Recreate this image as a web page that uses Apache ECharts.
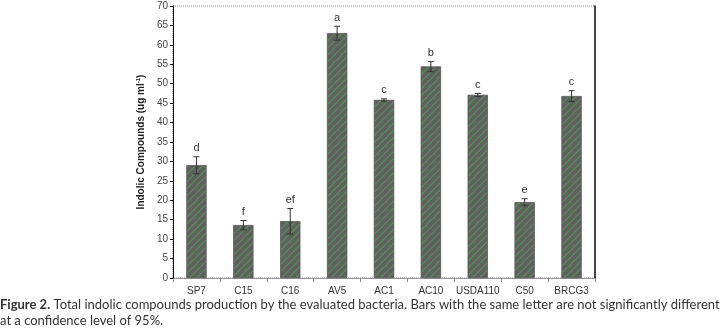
<!DOCTYPE html>
<html>
<head>
<meta charset="utf-8">
<script src="https://cdn.jsdelivr.net/npm/echarts@6/dist/echarts.min.js"></script>
<style>
  html, body { margin: 0; padding: 0; background: #fff; }
  #main { width: 722px; height: 336px; }
</style>
</head>
<body>
<div id="main"></div>
<script>
// bacteria strains
var strains = ['SP7', 'C15', 'C16', 'AV5', 'AC1', 'AC10', 'USDA110', 'C50', 'BRCG3'];
// mean indolic compounds (ug/ml)
var means = [29.0, 13.6, 14.6, 63.0, 45.8, 54.4, 47.1, 19.5, 46.8];
// standard error (+/-)
var errors = [2.2, 1.2, 3.3, 1.8, 0.3, 1.3, 0.4, 0.9, 1.4];
// significance letters
var letters = ['d', 'f', 'ef', 'a', 'c', 'b', 'c', 'e', 'c'];

var yTicks = { min: 0, max: 70, interval: 5 };

var chart = echarts.init(document.getElementById('main'));

var errData = strains.map(function (s, i) {
  return [i, means[i] - errors[i], means[i] + errors[i]];
});

var option = {
  animation: false,
  textStyle: { fontFamily: 'Liberation Sans, Arial, sans-serif' },
  // dotted frame on top, axes cover the other sides
  grid: {
    left: 173, right: 127, top: 6, bottom: 58,
    show: true, borderColor: '#8a7a90', borderWidth: 1, borderType: [1, 1]
  },
  xAxis: {
    type: 'category',
    data: strains,
    axisLine: { lineStyle: { color: '#999', width: 1 } },
    axisTick: { show: true, length: 4, lineStyle: { color: '#888' } },
    axisLabel: { color: '#333', fontSize: 10, margin: 8, interval: 0 }
  },
  yAxis: [{
    type: 'value',
    min: yTicks.min,
    max: yTicks.max,
    interval: yTicks.interval,
    name: 'Indolic Compounds (ug ml{sup|-1})',
    nameLocation: 'middle',
    nameGap: 26,
    nameTextStyle: {
      fontSize: 10, fontWeight: 'bold', color: '#222',
      rich: { sup: { fontSize: 6, fontWeight: 'bold', verticalAlign: 'top', padding: [0, 0, 5, 0] } }
    },
    axisLine: { show: true, lineStyle: { color: '#111', width: 1 } },
    axisTick: { show: true, length: 3, lineStyle: { color: '#111' } },
    axisLabel: { color: '#444', fontSize: 10, margin: 5 },
    splitLine: { show: false }
  }, {
    type: 'value',
    position: 'right',
    min: yTicks.min,
    max: yTicks.max,
    interval: yTicks.interval,
    axisLine: { show: true, onZero: false, lineStyle: { color: '#111', width: 1.5 } },
    axisTick: { show: false },
    axisLabel: { show: false },
    splitLine: { show: false }
  }],
  series: [{
    type: 'bar',
    data: means,
    barWidth: 20,
    itemStyle: {
      color: '#606060',
      borderColor: '#555',
      borderWidth: 0.5,
      decal: {
        symbol: 'rect',
        color: 'rgba(80,185,80,0.6)',
        dashArrayX: [1, 0],
        dashArrayY: [1, 4],
        rotation: -Math.PI / 4
      }
    },
    z: 2
  }, {
    type: 'custom',
    data: errData,
    z: 5,
    renderItem: function (params, api) {
      var x = api.coord([api.value(0), 0])[0];
      var lo = api.coord([api.value(0), api.value(1)])[1];
      var hi = api.coord([api.value(0), api.value(2)])[1];
      var cap = 3;
      var st = { stroke: '#333', lineWidth: 1 };
      return {
        type: 'group',
        children: [
          { type: 'line', shape: { x1: x, y1: lo, x2: x, y2: hi }, style: st },
          { type: 'line', shape: { x1: x - cap, y1: hi, x2: x + cap, y2: hi }, style: st },
          { type: 'line', shape: { x1: x - cap, y1: lo, x2: x + cap, y2: lo }, style: st },
          {
            type: 'text',
            style: {
              text: letters[params.dataIndex],
              x: x, y: hi - 3,
              align: 'center', verticalAlign: 'bottom',
              fill: '#333', fontSize: 11,
              fontFamily: 'Liberation Sans, Arial, sans-serif'
            }
          }
        ]
      };
    }
  }],
  graphic: [{
    type: 'text',
    left: 0,
    top: 297,
    style: {
      text: '{b|Figure 2.} Total indolic compounds production by the evaluated bacteria. Bars with the same letter are not significantly different\nat a confidence level of 95%.',
      fill: '#333',
      fontSize: 13,
      lineHeight: 16,
      fontFamily: 'Lato, sans-serif',
      rich: { b: { fontWeight: 'bold', fontSize: 13, fill: '#333', fontFamily: 'Lato, sans-serif' } }
    }
  }]
};

chart.setOption(option);
</script>
</body>
</html>
